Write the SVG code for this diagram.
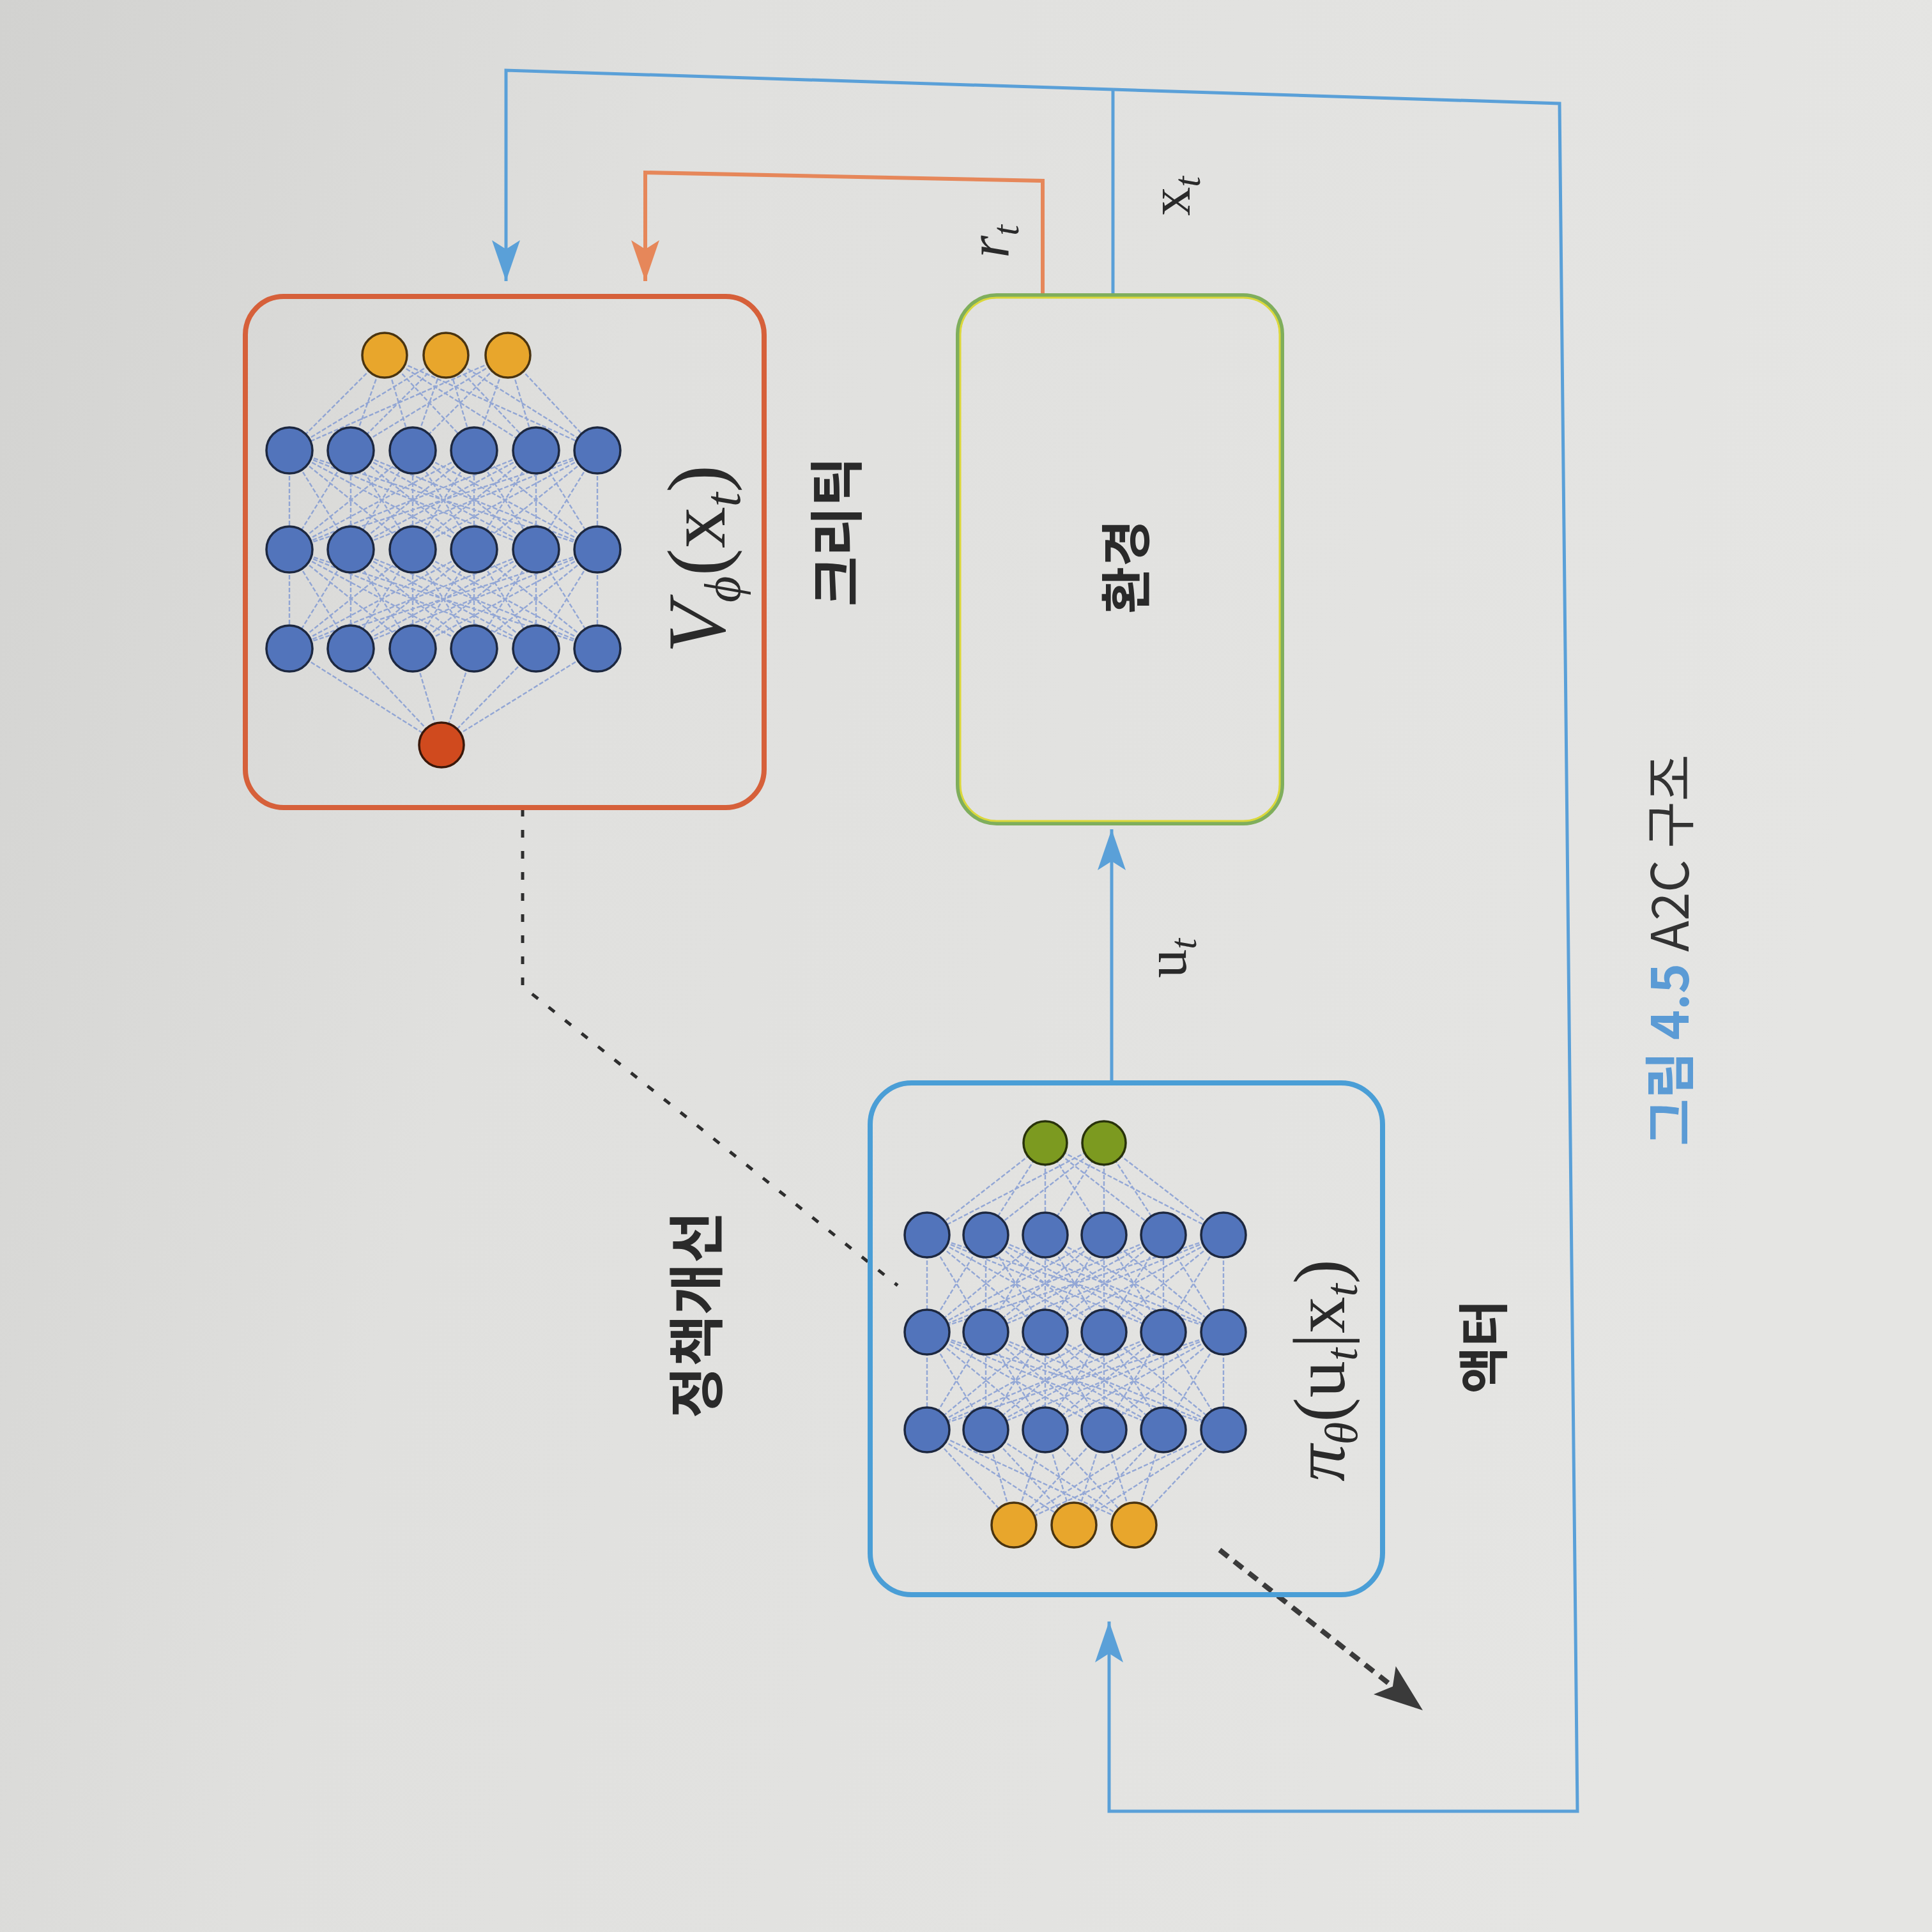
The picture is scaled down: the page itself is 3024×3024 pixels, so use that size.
<svg xmlns="http://www.w3.org/2000/svg" xmlns:xlink="http://www.w3.org/1999/xlink" width="3024" height="3024" viewBox="0 0 3024 3024">
<style>
.mesh{fill:none;stroke:#7893d2;stroke-width:2.4;stroke-opacity:.75;stroke-dasharray:7 3}
.nb{fill:#5274bb;stroke:#1d2840;stroke-width:3.5}
.ny{fill:#e8a62c;stroke:#4a3410;stroke-width:3.5}
.nr{fill:#d04a1e;stroke:#3a180a;stroke-width:3.5}
.ng{fill:#7c9a20;stroke:#28320a;stroke-width:3.5}
.blue{fill:none;stroke:#5aa0d8;stroke-width:5}
.orange{fill:none;stroke:#e6875a;stroke-width:6}
.math{font-family:"Liberation Serif","DejaVu Serif",serif;fill:#2a2a2a}
.kr{font-family:"Noto Sans CJK KR","Noto Sans",sans-serif;fill:#2a2a2a;dominant-baseline:central;text-anchor:middle;font-weight:700}
</style>
<defs>
<linearGradient id="bg" x1="0" y1="0" x2="1" y2="0.25">
<stop offset="0" stop-color="#d2d2d0"/>
<stop offset="0.35" stop-color="#e0e0de"/>
<stop offset="1" stop-color="#e5e5e3"/>
</linearGradient>
<marker id="arrB" viewBox="-66 -24 68 48" refX="0" refY="0" markerWidth="68" markerHeight="48" markerUnits="userSpaceOnUse" orient="auto"><path d="M0,0 L-64,-22 L-50,0 L-64,22 Z" fill="#5aa0d8"/></marker>
<marker id="arrO" viewBox="-66 -24 68 48" refX="0" refY="0" markerWidth="68" markerHeight="48" markerUnits="userSpaceOnUse" orient="auto"><path d="M0,0 L-64,-22 L-50,0 L-64,22 Z" fill="#e6875a"/></marker>
<marker id="arrK" viewBox="-80 -30 82 60" refX="0" refY="0" markerWidth="82" markerHeight="60" markerUnits="userSpaceOnUse" orient="auto"><path d="M0,0 L-76,-28 L-60,0 L-76,28 Z" fill="#3a3a3a"/></marker>
<path id="meshC" class="mesh" d="M453 0L453 155M453 0L549 155M453 0L646 155M453 0L742 155M453 0L839 155M453 0L935 155M549 0L453 155M549 0L549 155M549 0L646 155M549 0L742 155M549 0L839 155M549 0L935 155M646 0L453 155M646 0L549 155M646 0L646 155M646 0L742 155M646 0L839 155M646 0L935 155M742 0L453 155M742 0L549 155M742 0L646 155M742 0L742 155M742 0L839 155M742 0L935 155M839 0L453 155M839 0L549 155M839 0L646 155M839 0L742 155M839 0L839 155M839 0L935 155M935 0L453 155M935 0L549 155M935 0L646 155M935 0L742 155M935 0L839 155M935 0L935 155"/>
<path id="meshA" class="mesh" d="M1451 0L1451 152M1451 0L1543 152M1451 0L1636 152M1451 0L1728 152M1451 0L1821 152M1451 0L1915 152M1543 0L1451 152M1543 0L1543 152M1543 0L1636 152M1543 0L1728 152M1543 0L1821 152M1543 0L1915 152M1636 0L1451 152M1636 0L1543 152M1636 0L1636 152M1636 0L1728 152M1636 0L1821 152M1636 0L1915 152M1728 0L1451 152M1728 0L1543 152M1728 0L1636 152M1728 0L1728 152M1728 0L1821 152M1728 0L1915 152M1821 0L1451 152M1821 0L1543 152M1821 0L1636 152M1821 0L1728 152M1821 0L1821 152M1821 0L1915 152M1915 0L1451 152M1915 0L1543 152M1915 0L1636 152M1915 0L1728 152M1915 0L1821 152M1915 0L1915 152"/>
</defs>
<rect x="0" y="0" width="3024" height="3024" fill="url(#bg)"/>

<g id="connectors">
<path class="blue" d="M1742 463 L1742 140"/>
<path class="blue" d="M1742 140 L792 110 L792 440" marker-end="url(#arrB)"/>
<path class="blue" d="M1742 140 L2441 162 L2469 2835 L1736 2835 L1736 2538" marker-end="url(#arrB)"/>
<path class="orange" d="M1632 463 L1632 283 L1010 270 L1010 440" marker-end="url(#arrO)"/>
<path class="blue" d="M1740 1695 L1740 1298" marker-end="url(#arrB)"/>
<path d="M818 1266 L818 1544 L1405 2012" fill="none" stroke="#2e2e2e" stroke-width="5" stroke-dasharray="12 21"/>
<path d="M1909 2426 L2227 2677" fill="none" stroke="#3a3a3a" stroke-width="8" stroke-dasharray="17 12" marker-end="url(#arrK)"/>
<g transform="translate(1578,378) rotate(-90)"><text class="math" x="0" y="0" font-size="90" text-anchor="middle"><tspan font-style="italic">r</tspan><tspan font-style="italic" font-size="60" dy="16">t</tspan></text></g>
<g transform="translate(1862,307) rotate(-90)"><text class="math" x="0" y="0" font-size="90" text-anchor="middle"><tspan>x</tspan><tspan font-style="italic" font-size="60" dy="16">t</tspan></text></g>
<g transform="translate(1856,1500) rotate(-90)"><text class="math" x="0" y="0" font-size="90" text-anchor="middle"><tspan>u</tspan><tspan font-style="italic" font-size="60" dy="16">t</tspan></text></g>
<g transform="translate(1083,2058) rotate(-90)"><text class="kr" x="0" y="0" font-size="88">정책개선</text></g>
</g>

<g id="critic">
<rect x="384" y="464" width="812" height="800" rx="60" fill="none" stroke="#d6603a" stroke-width="8"/>
<path class="mesh" d="M602 556L453 705M602 556L549 705M602 556L646 705M602 556L742 705M602 556L839 705M602 556L935 705M698 556L453 705M698 556L549 705M698 556L646 705M698 556L742 705M698 556L839 705M698 556L935 705M795 556L453 705M795 556L549 705M795 556L646 705M795 556L742 705M795 556L839 705M795 556L935 705"/>
<use xlink:href="#meshC" href="#meshC" transform="translate(0,705)"/>
<use xlink:href="#meshC" href="#meshC" transform="translate(0,860)"/>
<path class="mesh" d="M453 1015L691 1166M549 1015L691 1166M646 1015L691 1166M742 1015L691 1166M839 1015L691 1166M935 1015L691 1166"/>
<circle class="ny" cx="602" cy="556" r="35"/><circle class="ny" cx="698" cy="556" r="35"/><circle class="ny" cx="795" cy="556" r="35"/>
<circle class="nb" cx="453" cy="705" r="36"/><circle class="nb" cx="549" cy="705" r="36"/><circle class="nb" cx="646" cy="705" r="36"/><circle class="nb" cx="742" cy="705" r="36"/><circle class="nb" cx="839" cy="705" r="36"/><circle class="nb" cx="935" cy="705" r="36"/>
<circle class="nb" cx="453" cy="860" r="36"/><circle class="nb" cx="549" cy="860" r="36"/><circle class="nb" cx="646" cy="860" r="36"/><circle class="nb" cx="742" cy="860" r="36"/><circle class="nb" cx="839" cy="860" r="36"/><circle class="nb" cx="935" cy="860" r="36"/>
<circle class="nb" cx="453" cy="1015" r="36"/><circle class="nb" cx="549" cy="1015" r="36"/><circle class="nb" cx="646" cy="1015" r="36"/><circle class="nb" cx="742" cy="1015" r="36"/><circle class="nb" cx="839" cy="1015" r="36"/><circle class="nb" cx="935" cy="1015" r="36"/>
<circle class="nr" cx="691" cy="1166" r="35"/>
<g transform="translate(1134,875) rotate(-90)"><text class="math" x="0" y="0" font-size="130" text-anchor="middle"><tspan font-style="italic">V</tspan><tspan font-style="italic" font-size="80" dy="24">ϕ</tspan><tspan dy="-24">(x</tspan><tspan font-style="italic" font-size="80" dy="24">t</tspan><tspan dy="-24">)</tspan></text></g>
<g transform="translate(1303,832) rotate(-90)"><text class="kr" x="0" y="0" font-size="85">크리틱</text></g>
</g>

<g id="environment">
<rect x="1500" y="463" width="506" height="825" rx="60" fill="none" stroke="#7fae5c" stroke-width="8"/>
<rect x="1503" y="466" width="500" height="819" rx="57" fill="none" stroke="#dcd83a" stroke-width="3"/>
<g transform="translate(1757,887) rotate(-90)"><text class="kr" x="0" y="0" font-size="80">환경</text></g>
</g>

<g id="actor">
<rect x="1362" y="1695" width="802" height="801" rx="65" fill="none" stroke="#4a9ed6" stroke-width="8"/>
<path class="mesh" d="M1636 1789L1451 1933M1636 1789L1543 1933M1636 1789L1636 1933M1636 1789L1728 1933M1636 1789L1821 1933M1636 1789L1915 1933M1728 1789L1451 1933M1728 1789L1543 1933M1728 1789L1636 1933M1728 1789L1728 1933M1728 1789L1821 1933M1728 1789L1915 1933"/>
<use xlink:href="#meshA" href="#meshA" transform="translate(0,1933)"/>
<use xlink:href="#meshA" href="#meshA" transform="translate(0,2085)"/>
<path class="mesh" d="M1451 2238L1587 2387M1451 2238L1681 2387M1451 2238L1775 2387M1543 2238L1587 2387M1543 2238L1681 2387M1543 2238L1775 2387M1636 2238L1587 2387M1636 2238L1681 2387M1636 2238L1775 2387M1728 2238L1587 2387M1728 2238L1681 2387M1728 2238L1775 2387M1821 2238L1587 2387M1821 2238L1681 2387M1821 2238L1775 2387M1915 2238L1587 2387M1915 2238L1681 2387M1915 2238L1775 2387"/>
<circle class="ng" cx="1636" cy="1789" r="34"/><circle class="ng" cx="1728" cy="1789" r="34"/>
<circle class="nb" cx="1451" cy="1933" r="35"/><circle class="nb" cx="1543" cy="1933" r="35"/><circle class="nb" cx="1636" cy="1933" r="35"/><circle class="nb" cx="1728" cy="1933" r="35"/><circle class="nb" cx="1821" cy="1933" r="35"/><circle class="nb" cx="1915" cy="1933" r="35"/>
<circle class="nb" cx="1451" cy="2085" r="35"/><circle class="nb" cx="1543" cy="2085" r="35"/><circle class="nb" cx="1636" cy="2085" r="35"/><circle class="nb" cx="1728" cy="2085" r="35"/><circle class="nb" cx="1821" cy="2085" r="35"/><circle class="nb" cx="1915" cy="2085" r="35"/>
<circle class="nb" cx="1451" cy="2238" r="35"/><circle class="nb" cx="1543" cy="2238" r="35"/><circle class="nb" cx="1636" cy="2238" r="35"/><circle class="nb" cx="1728" cy="2238" r="35"/><circle class="nb" cx="1821" cy="2238" r="35"/><circle class="nb" cx="1915" cy="2238" r="35"/>
<circle class="ny" cx="1587" cy="2387" r="35"/><circle class="ny" cx="1681" cy="2387" r="35"/><circle class="ny" cx="1775" cy="2387" r="35"/>
<g transform="translate(2104,2145) rotate(-90)"><text class="math" x="0" y="0" font-size="115" text-anchor="middle"><tspan font-style="italic">π</tspan><tspan font-style="italic" font-size="72" dy="20">θ</tspan><tspan dy="-20">(u</tspan><tspan font-style="italic" font-size="72" dy="20">t</tspan><tspan dy="-20">|x</tspan><tspan font-style="italic" font-size="72" dy="20">t</tspan><tspan dy="-20">)</tspan></text></g>
<g transform="translate(2316,2108) rotate(-90)"><text class="kr" x="0" y="0" font-size="80">액터</text></g>
</g>

<g id="caption" transform="translate(2608,1487) rotate(-90)">
<text x="0" y="0" font-family="Noto Sans CJK KR, Noto Sans, sans-serif" font-size="80" text-anchor="middle" dominant-baseline="central"><tspan fill="#5b9bd5" font-weight="700">그림 4.5</tspan><tspan fill="#333333"> A2C 구조</tspan></text>
</g>
</svg>
